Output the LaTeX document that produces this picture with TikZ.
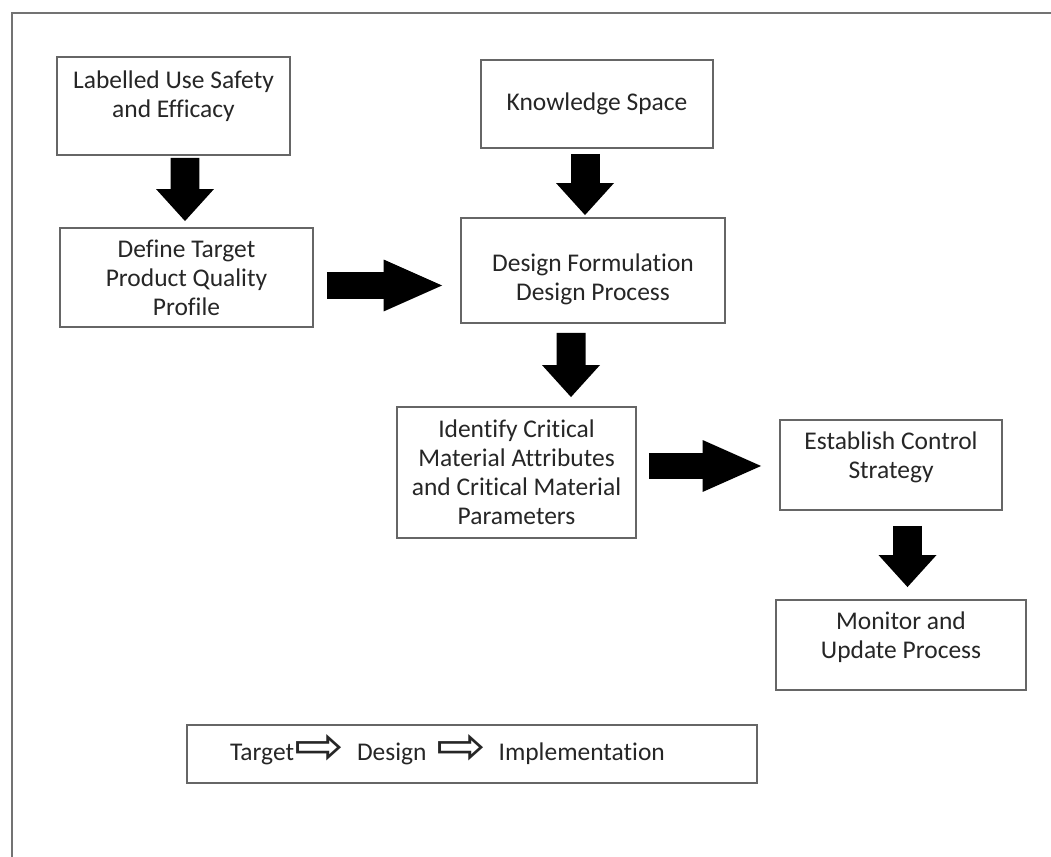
\documentclass[tikz,border=0pt]{standalone}
\usepackage{fontspec}
\setmainfont{Carlito}[Ligatures={NoCommon,NoContextual}]
\newfontfamily\symfont{DejaVu Sans}
\usetikzlibrary{arrows.meta,calc}

\newcommand{\legarrow}{{\symfont\raisebox{-0.07cm}[0.3cm][0.05cm]{\resizebox{1.0cm}{0.6cm}{⇨}}}}
\newcommand{\liftby}[2]{\raisebox{#1}[\height][\depth]{\begin{tabular}{@{}c@{}}#2\end{tabular}}}

\begin{document}
\begin{tikzpicture}[
  x=0.02cm, y=-0.02cm,
  every node/.style={font=\fontsize{14.5}{16.5}\selectfont, text=black!85},
  stepbox/.style={rectangle, draw=black!60, line width=1.1pt, align=center, inner sep=0pt},
  frame/.style={draw=black!55, line width=1.4pt},
  blockdown/.style={line width=0.58cm, -{Triangle[length=0.64cm 0 0, width=1.16cm 0 0, line width=0pt 0 0]}},
  blockright/.style={line width=0.53cm, -{Triangle[length=1.17cm 0 0, width=1.04cm 0 0, line width=0pt 0 0]}}
]
\path[fill=white, use as bounding box] (0,0) rectangle (1051,857);
\draw[frame] (1051,13) -- (12,13) -- (12,857);

\node[stepbox, minimum width=4.66cm, minimum height=1.96cm] (lab) at (173.5,106) {\liftby{0.18cm}{Labelled Use Safety\\and Efficacy}};
\node[stepbox, minimum width=4.64cm, minimum height=1.76cm] (know) at (597,104) {Knowledge Space};
\node[stepbox, minimum width=5.06cm, minimum height=1.98cm] (def) at (186.5,277.5) {Define Target\\Product Quality\\Profile};
\node[stepbox, minimum width=5.28cm, minimum height=2.10cm] (des) at (593,270.5) {\liftby{-0.2cm}{Design Formulation\\Design Process}};
\node[stepbox, minimum width=4.78cm, minimum height=2.62cm] (ident) at (516.5,472.5) {Identify Critical\\Material Attributes\\and Critical Material\\Parameters};
\node[stepbox, minimum width=4.44cm, minimum height=1.80cm] (est) at (891,465) {\liftby{0.14cm}{Establish Control\\Strategy}};
\node[stepbox, minimum width=5.00cm, minimum height=1.80cm] (mon) at (901,645) {\liftby{0.14cm}{Monitor and\\Update Process}};
\node[stepbox, align=left, inner xsep=0.86cm, text width=9.68cm, minimum height=1.16cm] (leg) at (472,754)
  {Target\legarrow\hspace{0.26cm}Design\hspace{0.2cm}\legarrow\hspace{0.24cm}Implementation};

\draw[blockdown] ($(lab.south)+(11.5,2)$) -- ($(def.north)+(-1.5,-6)$);
\draw[blockdown] ($(know.south)+(-12,5)$) -- ($(des.north)+(-8,-2)$);
\draw[blockright] ($(def.east)+(13,8)$) -- ($(des.west)+(-18,15)$);
\draw[blockdown] ($(des.south)+(-22,9)$) -- ($(ident.north)+(54.5,-9)$);
\draw[blockright] ($(ident.east)+(12,-6.5)$) -- ($(est.west)+(-18,1)$);
\draw[blockdown] ($(est.south)+(16.5,15)$) -- ($(mon.north)+(6.5,-12)$);
\end{tikzpicture}
\end{document}
